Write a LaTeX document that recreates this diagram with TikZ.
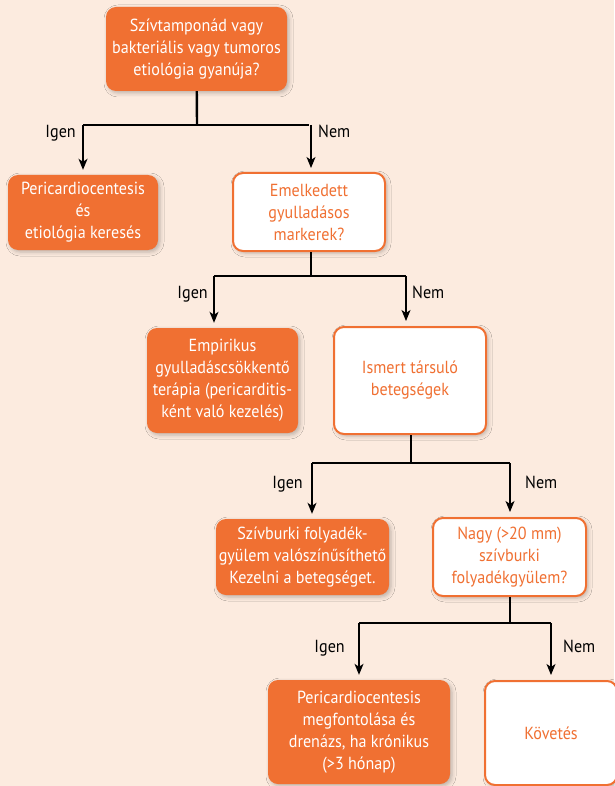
\documentclass[tikz,border=0pt]{standalone}
\usepackage{fontspec}
\setmainfont{PT Sans}[FakeStretch=0.92]
\usetikzlibrary{arrows.meta,shadows.blur}

\definecolor{bgpeach}{HTML}{FCEBDF}
\definecolor{orng}{HTML}{F07032}

\tikzset{
  box/.style={rounded corners=10pt, align=center, inner sep=0pt,
    font=\fontsize{17.5}{22}\selectfont,
    blur shadow={shadow xshift=2pt, shadow yshift=-2pt, shadow blur radius=4pt, shadow opacity=25}},
  solidbox/.style={box, fill=orng, text=white},
  openbox/.style={box, fill=white, draw=orng, line width=2pt, text=orng},
  stem/.style={line width=2.4pt},
  branch/.style={line width=1.6pt},
  arr/.style={line width=1.3pt, -{Stealth[length=11pt,width=9pt,inset=3pt]}, shorten >=5pt},
  answer/.style={font=\fontsize{17.5}{22}\selectfont, inner sep=0pt},
}

\begin{document}
\begin{tikzpicture}[x=1pt,y=-1pt]

  \fill[bgpeach] (0,0) rectangle (614,786);
  \useasboundingbox (0,0) rectangle (614,786);

  \node[solidbox, minimum width=181pt, minimum height=84pt] (suspect) at (196.5,49)
    {Szívtamponád vagy\\bakteriális vagy tumoros\\etiológia gyanúja?};
  \node[solidbox, minimum width=150pt, minimum height=75pt] (drain) at (83,212.5)
    {Pericardiocentesis\\és\\etiológia keresés};
  \node[openbox, minimum width=152pt, minimum height=78pt] (markers) at (309,212)
    {Emelkedett\\gyulladásos\\markerek?};
  \node[solidbox, minimum width=151pt, minimum height=105pt] (empiric) at (222.5,380.5)
    {Empirikus\\gyulladáscsökkentő\\terápia (pericarditis-\\ként való kezelés)};
  \node[openbox, minimum width=152pt, minimum height=107pt] (known) at (410,380.5)
    {Ismert társuló\\betegségek};
  \node[solidbox, minimum width=173pt, minimum height=76pt] (likely) at (302.5,557)
    {Szívburki folyadék-\\gyülem valószínűsíthető\\Kezelni a betegséget.};
  \node[openbox, minimum width=153pt, minimum height=78pt] (large) at (509.5,557)
    {Nagy (>20 mm)\\szívburki\\folyadékgyülem?};
  \node[solidbox, minimum width=182pt, minimum height=104pt] (chronic) at (359,732)
    {Pericardiocentesis\\megfontolása és\\drenázs, ha krónikus\\(>3 hónap)};
  \node[openbox, minimum width=132pt, minimum height=104pt] (follow) at (551,733)
    {Követés};

  \coordinate (j1) at (197,125);
  \coordinate (j2) at (311,276);
  \coordinate (j3) at (411,463);
  \coordinate (j4) at (510,623);
  \coordinate (j2l) at (214,276);
  \coordinate (j2r) at (406,276);
  \coordinate (j3l) at (312,463);
  \coordinate (j3r) at (510,463);
  \coordinate (j4l) at (359,623);
  \coordinate (j4r) at (551,623);

  \draw[stem] (suspect) -- (j1);
  \draw[branch] (j1 -| drain) -- (j1 -| markers.north);
  \draw[arr] (j1 -| drain) -- (drain);
  \draw[arr] (311,125) -- (311,173);

  \draw[stem] (markers.south -| j2) -- (j2);
  \draw[branch] (j2l) -- (j2r);
  \draw[arr] (j2l) -- (j2l |- empiric.north);
  \draw[arr] (j2r) -- (j2r |- known.north);

  \draw[stem] (known.south -| j3) -- (j3);
  \draw[branch] (j3l) -- (j3r);
  \draw[arr] (j3l) -- (j3l |- likely.north);
  \draw[arr] (j3r) -- (j3r |- large.north);

  \draw[stem] (large.south -| j4) -- (j4);
  \draw[branch] (j4l) -- (j4r);
  \draw[arr] (j4l) -- (j4l |- chronic.north);
  \draw[arr] (j4r) -- (j4r |- follow.north);

  \begin{scope}[every node/.style={answer}]
    \node[anchor=base east] (yes1) at (76,138) {Igen};
    \node[anchor=base west] (no1) at (318,138) {Nem};
    \node[anchor=base east] (yes2) at (208,298) {Igen};
    \node[anchor=base west] (no2) at (412,298) {Nem};
    \node[anchor=base east] (yes3) at (303,488) {Igen};
    \node[anchor=base west] (no3) at (525,488) {Nem};
    \node[anchor=base east] (yes4) at (345,652) {Igen};
    \node[anchor=base west] (no4) at (563,652) {Nem};
  \end{scope}

\end{tikzpicture}
\end{document}
